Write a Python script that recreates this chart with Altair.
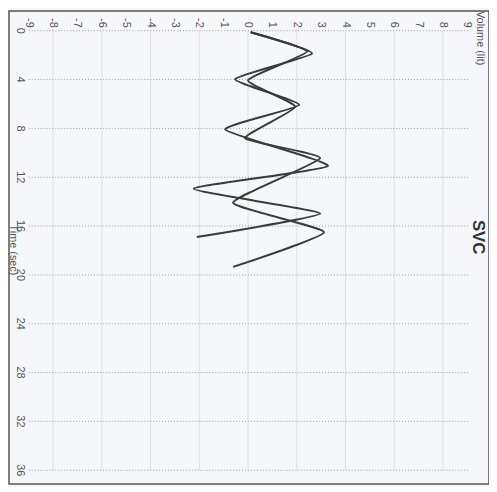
import altair as alt
import pandas as pd

# Tick values
vol_ticks = list(range(-9, 10))
time_ticks = list(range(0, 37, 4))
vol_grid = list(range(-8, 9, 2))

# Trial A (time s, volume l)
a_time = [0.1, 1.86, 3.96, 6.07, 8.1, 11.08, 12.94, 14.97, 16.9]
a_vol = [0.1, 2.63, -0.53, 2.1, -0.93, 3.28, -2.23, 2.96, -2.1]
# Trial B
b_time = [0.15, 1.7, 4.05, 6.23, 8.82, 10.44, 14.08, 16.5, 19.34]
b_vol = [0.12, 2.43, 0.0, 1.94, -0.12, 2.96, -0.61, 3.12, -0.61]

rows = []
for name, ts, vs in (("A", a_time, a_vol), ("B", b_time, b_vol)):
    for t, v in zip(ts, vs):
        rows.append({"trial": name, "t": t, "v": v})
df = pd.DataFrame(rows)

W, H = 486, 479
xs = alt.Scale(domain=[-9.81, 9.89], nice=False, zero=False)
ys = alt.Scale(domain=[-1.62, 37.13], nice=False, zero=False, reverse=True)

hgrid = alt.Chart(pd.DataFrame({"t": time_ticks, "x1": [-9.0] * len(time_ticks), "x2": [9.1] * len(time_ticks)})).mark_rule(
    color="#9a9a9a", strokeWidth=1, strokeDash=[1, 2]
).encode(
    y=alt.Y("t:Q", scale=ys, axis=None),
    x=alt.X("x1:Q", scale=xs, axis=None),
    x2="x2:Q",
)

vgrid = alt.Chart(pd.DataFrame({"v": vol_grid, "y1": [0.0] * len(vol_grid), "y2": [36.0] * len(vol_grid)})).mark_rule(
    color="#dde0e6", strokeWidth=1
).encode(
    x=alt.X("v:Q", scale=xs, axis=None),
    y=alt.Y("y1:Q", scale=ys, axis=None),
    y2="y2:Q",
)

lines = alt.Chart(df).mark_line(interpolate="cardinal", tension=0.55, color="#3a3a3a", strokeWidth=2).encode(
    x=alt.X("v:Q", scale=xs, axis=None),
    y=alt.Y("t:Q", scale=ys, axis=None),
    detail="trial:N",
    order="t:Q",
)

vol_lbl = alt.Chart(pd.DataFrame({"v": vol_ticks, "s": [str(v) for v in vol_ticks]})).mark_text(
    angle=90, align="right", baseline="middle", fontSize=11, color="#555", font="Liberation Sans"
).encode(x=alt.X("v:Q", scale=xs, axis=None), y=alt.value(17), text="s:N")

time_lbl = alt.Chart(pd.DataFrame({"t": time_ticks, "s": [str(t) for t in time_ticks]})).mark_text(
    angle=90, align="center", baseline="middle", fontSize=11, color="#555", font="Liberation Sans"
).encode(y=alt.Y("t:Q", scale=ys, axis=None), x=alt.value(11), text="s:N")

vol_title = alt.Chart(pd.DataFrame({"s": ["Volume (lit)"]})).mark_text(
    angle=90, align="left", baseline="middle", fontSize=11, color="#555", font="Liberation Sans"
).encode(x=alt.value(477), y=alt.value(0), text="s:N")

time_title = alt.Chart(pd.DataFrame({"s": ["Time (sec)"]})).mark_text(
    angle=90, align="center", baseline="middle", fontSize=11, color="#555", font="Liberation Sans"
).encode(x=alt.value(4), y=alt.value(242), text="s:N")

svc_title = alt.Chart(pd.DataFrame({"s": ["SVC"]})).mark_text(
    angle=90, align="center", baseline="middle", fontSize=17, fontWeight="bold", color="#333", font="Liberation Sans"
).encode(x=alt.value(475), y=alt.value(229), text="s:N")

chart = alt.layer(vgrid, hgrid, lines, vol_lbl, time_lbl, vol_title, time_title, svc_title).properties(
    width=W, height=H, padding=0, background="#f5f7fa"
).configure_view(stroke="#555", strokeWidth=1.5)

chart.save("out.html", embed_options={"renderer": "svg", "actions": False})
